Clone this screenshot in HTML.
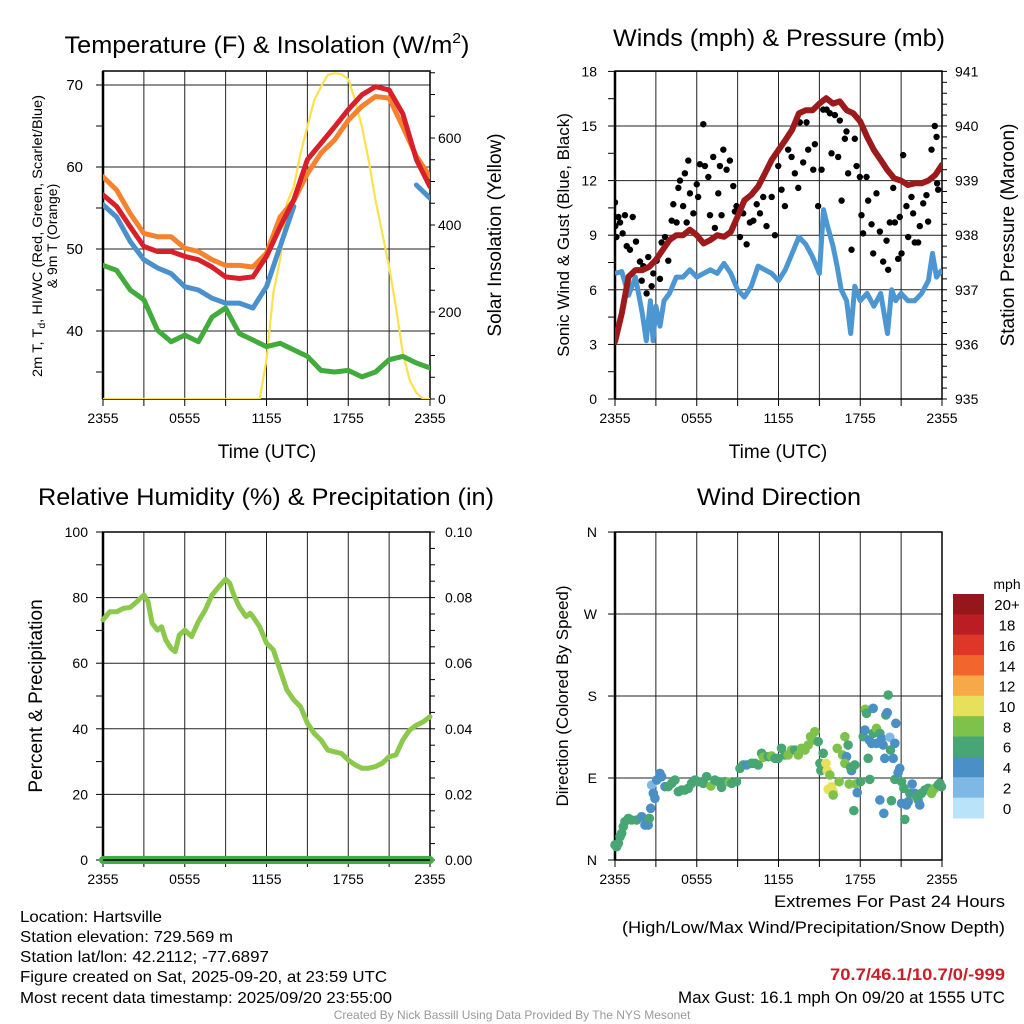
<!DOCTYPE html>
<html><head><meta charset="utf-8"><title>Hartsville Meteogram</title>
<style>
html,body{margin:0;padding:0;background:#fff;}
svg{display:block;font-family:"Liberation Sans",Arial,sans-serif;}
</style></head>
<body>
<svg id="chart" xmlns="http://www.w3.org/2000/svg" width="1024" height="1024" viewBox="0 0 1024 1024">
<rect x="0" y="0" width="1024" height="1024" fill="#fff"/>
<g id="layer"></g>
<!-- Titles -->
<text x="267" y="53" font-size="24" text-anchor="middle" textLength="405" lengthAdjust="spacingAndGlyphs">Temperature (F) &amp; Insolation (W/m<tspan font-size="15" dy="-10">2</tspan><tspan dy="10">)</tspan></text>
<text x="779" y="46" font-size="24" text-anchor="middle" textLength="332" lengthAdjust="spacingAndGlyphs">Winds (mph) &amp; Pressure (mb)</text>
<text x="266" y="505" font-size="24" text-anchor="middle" textLength="456" lengthAdjust="spacingAndGlyphs">Relative Humidity (%) &amp; Precipitation (in)</text>
<text x="779" y="505" font-size="24" text-anchor="middle" textLength="164" lengthAdjust="spacingAndGlyphs">Wind Direction</text>
<!-- Axis titles -->
<text x="267" y="458" font-size="19" text-anchor="middle">Time (UTC)</text>
<text x="778" y="458" font-size="19" text-anchor="middle">Time (UTC)</text>
<text transform="translate(42,236) rotate(-90)" font-size="14" text-anchor="middle" textLength="282" lengthAdjust="spacingAndGlyphs">2m T, T<tspan font-size="10" dy="3">d</tspan><tspan dy="-3">, HI/WC (Red, Green, Scarlet/Blue)</tspan></text>
<text transform="translate(57,236) rotate(-90)" font-size="14" text-anchor="middle">&amp; 9m T (Orange)</text>
<text transform="translate(501,235) rotate(-90)" font-size="19" text-anchor="middle">Solar Insolation (Yellow)</text>
<text transform="translate(569,235) rotate(-90)" font-size="17" text-anchor="middle">Sonic Wind &amp; Gust (Blue, Black)</text>
<text transform="translate(1014,235) rotate(-90)" font-size="19" text-anchor="middle">Station Pressure (Maroon)</text>
<text transform="translate(42,696) rotate(-90)" font-size="19" text-anchor="middle">Percent &amp; Precipitation</text>
<text transform="translate(568,696) rotate(-90)" font-size="17" text-anchor="middle">Direction (Colored By Speed)</text>
<!-- Footer -->
<g font-size="16">
<text x="20" y="922" textLength="142" lengthAdjust="spacingAndGlyphs">Location: Hartsville</text>
<text x="20" y="942" textLength="213" lengthAdjust="spacingAndGlyphs">Station elevation: 729.569 m</text>
<text x="20" y="962" textLength="249" lengthAdjust="spacingAndGlyphs">Station lat/lon: 42.2112; -77.6897</text>
<text x="20" y="982" textLength="367" lengthAdjust="spacingAndGlyphs">Figure created on Sat, 2025-09-20, at 23:59 UTC</text>
<text x="20" y="1003" textLength="372" lengthAdjust="spacingAndGlyphs">Most recent data timestamp: 2025/09/20 23:55:00</text>
</g>
<g font-size="17" text-anchor="end">
<text x="1005" y="907" textLength="231" lengthAdjust="spacingAndGlyphs">Extremes For Past 24 Hours</text>
<text x="1005" y="933" textLength="383" lengthAdjust="spacingAndGlyphs">(High/Low/Max Wind/Precipitation/Snow Depth)</text>
<text x="1005" y="980" fill="#c8202a" font-weight="bold" textLength="175" lengthAdjust="spacingAndGlyphs">70.7/46.1/10.7/0/-999</text>
<text x="1005" y="1003" textLength="327" lengthAdjust="spacingAndGlyphs">Max Gust: 16.1 mph On 09/20 at 1555 UTC</text>
</g>
<text x="512" y="1019" font-size="12" fill="#999" text-anchor="middle">Created By Nick Bassill Using Data Provided By The NYS Mesonet</text>
</svg>
<script>
// ---------- DATA ----------
const hours = [0,1,2,3,4,5,6,7,8,9,10,11,12,13,14,15,16,17,18,19,20,21,22,23,24];
const tempRed = [56.6,55.2,52.7,50.3,49.7,49.7,49.1,48.7,47.8,46.6,46.4,46.6,49.1,52.7,56.0,60.9,62.9,64.9,67.0,68.8,69.8,69.4,66.5,60.9,57.6];
const tempOrange = [58.8,57.2,54.3,51.9,51.5,51.5,50.1,49.7,48.7,48.0,48.0,47.8,49.5,53.9,55.9,59.2,61.7,63.3,65.7,67.4,68.6,68.4,64.9,61.3,58.8];
const tempBlue = [55.4,53.9,50.9,48.7,47.7,47.0,45.4,45.0,44.0,43.4,43.4,42.8,45.4,50.3,55.2,null,null,null,null,null,null,null,null,57.8,56.2];
const dewGreen = [48.0,47.4,45.0,43.8,40.1,38.7,39.5,38.7,41.7,42.8,39.7,38.9,38.1,38.5,37.7,36.9,35.2,35.0,35.2,34.4,35.0,36.5,36.9,36.1,35.5];
const solarHours = [0,11.5,12,12.5,13,13.5,14,14.5,15,15.5,16,16.5,17,17.5,18,18.5,19,19.5,20,20.5,21,21.5,22,22.5,23,23.5,24];
const solarVals = [0,0,90,244,320,450,488,565,626,687,718,745,749,747,735,687,626,549,457,381,304,212,106,44,14,0,0];

const windHours = [0,0.5,1,1.5,2,2.3,2.6,2.8,3,3.3,3.6,4,4.5,5,5.5,6,6.5,7,7.5,8,8.5,9,9.5,10,10.5,11,11.5,12,12.5,13,13.5,14,14.5,15,15.3,15.6,16,16.3,16.6,17,17.3,17.6,18,18.5,19,19.5,20,20.3,20.6,21,21.5,22,22.5,23,23.3,23.6,24];
const windVals = [6.9,7.0,5.7,6.7,4.7,3.2,5.4,3.2,5.1,4.0,5.4,5.8,6.7,6.7,7.1,6.7,6.9,7.1,6.9,7.45,6.9,6.0,5.6,6.2,7.3,7.1,6.9,6.5,7.1,8.0,8.9,8.5,7.8,6.9,10.4,9.5,8.4,7.3,6.0,5.4,3.6,6.2,5.4,5.8,5.1,5.8,3.6,6.0,5.4,5.8,5.4,5.4,5.8,6.5,8.0,6.7,7.1];
const presHours = [0,0.5,1,1.5,2,2.5,3,3.5,4,4.5,5,5.5,6,6.5,7,7.5,8,8.5,9,9.5,10,10.5,11,11.5,12,12.5,13,13.5,14,14.5,15,15.5,16,16.5,17,17.5,18,18.5,19,19.5,20,20.5,21,21.5,22,22.5,23,23.5,24];
const presVals = [936.05,936.57,937.24,937.36,937.36,937.42,937.55,937.73,937.91,938.0,938.0,938.1,938.0,937.85,937.91,938.0,937.97,938.06,938.34,938.64,938.74,938.89,939.13,939.38,939.56,939.74,939.93,940.23,940.29,940.29,940.41,940.51,940.41,940.45,940.29,940.23,940.08,939.8,939.56,939.38,939.19,939.04,939.0,938.92,938.95,938.95,939.0,939.1,939.29];
const gustHours = [0,0.02,0.1,0.25,0.37,0.56,0.73,0.86,1.1,1.3,1.54,1.83,1.96,2.08,2.32,2.44,2.69,2.81,3.06,3.3,3.42,3.67,3.91,4.16,4.28,4.52,4.65,4.77,5.0,5.13,5.26,5.38,5.5,5.75,6.0,6.1,6.23,6.48,6.6,6.85,6.97,7.21,7.33,7.58,7.7,7.82,7.95,8.19,8.43,8.68,8.8,8.92,9.17,9.41,9.66,9.9,10.15,10.4,10.64,10.88,11.12,11.5,11.74,11.98,12.22,12.47,12.71,12.96,13.2,13.45,13.57,13.81,14.06,14.18,14.55,14.67,14.91,15.16,15.28,15.53,15.77,15.89,16.14,16.38,16.5,16.63,16.87,16.99,17.11,17.36,17.6,17.73,17.97,18.09,18.21,18.46,18.58,18.83,18.95,19.19,19.44,19.68,19.93,20.05,20.17,20.42,20.54,20.78,20.9,21.03,21.15,21.39,21.52,21.76,21.88,22.0,22.25,22.37,22.62,22.86,22.98,23.23,23.47,23.6,23.64,23.72];
const gustVals = [10.8,9.5,8.9,10.0,9.7,9.1,10.1,8.4,8.2,10.0,8.65,7.55,6.5,7.3,5.8,7.8,6.2,6.9,7.6,6.6,8.6,8.9,7.6,9.8,10.7,9.7,11.6,12.0,10.6,12.4,9.7,13.1,11.3,10.2,11.8,11.1,12.9,15.1,12.8,12.2,10.1,13.3,9.4,11.3,12.8,10.1,13.7,12.6,13.1,11.7,10.3,10.6,8.9,10.2,8.5,9.7,9.8,10.7,10.2,11.1,9.5,11.1,9.0,12.8,11.5,10.6,13.7,13.3,12.4,11.6,15.2,13.0,15.2,13.7,12.6,14.0,10.6,12.6,15.9,15.9,15.7,13.5,15.6,13.3,15.3,10.9,14.3,14.7,12.4,8.2,14.3,12.8,12.2,10.1,9.1,12.2,10.9,9.6,8.0,11.3,9.2,7.55,8.7,7.1,9.7,11.6,9.7,7.7,10.0,8.0,13.4,10.6,8.9,11.1,10.2,8.6,8.6,9.5,10.75,11.2,9.75,13.7,15.0,14.4,11.85,11.5];

const rhHours = [0,0.5,1,1.5,2,2.5,3,3.3,3.6,4,4.3,4.6,5,5.3,5.6,6,6.5,7,7.5,8,8.5,9,9.3,9.6,10,10.5,10.8,11,11.5,12,12.5,13,13.5,14,14.5,15,15.5,16,16.5,17,17.5,18,18.5,19,19.5,20,20.5,21,21.5,22,22.5,23,23.5,24];
const rhVals = [73.2,75.7,75.7,76.7,77.0,78.8,80.8,78.8,72.2,70.1,71.1,67.1,64.5,63.5,68.6,70.1,68.1,72.7,76.2,80.8,83.3,85.6,84.4,80.8,77.2,74.2,75.2,74.2,71.1,66.1,64.1,57.9,51.8,48.8,46.7,41.7,38.6,36.6,33.5,33.0,32.5,30.5,29.0,28.0,28.0,28.5,29.5,31.5,32.0,36.6,39.6,41.1,42.1,43.7];
const precipHours = [0,24];
const precipVals = [0,0];

const dirHours = [0,0.12,0.24,0.37,0.49,0.61,0.73,0.98,1.22,1.59,1.96,2.2,2.44,2.52,2.62,2.69,2.81,2.93,3.06,3.3,3.42,3.67,3.91,4.16,4.4,4.65,4.89,5.13,5.38,5.62,5.87,6.11,6.48,6.72,7.04,7.33,7.58,7.82,8.07,8.39,8.56,8.92,9.17,9.41,9.66,10.02,10.27,10.51,10.76,10.88,11.25,11.49,11.74,11.98,12.22,12.47,12.71,12.96,13.2,13.45,13.69,13.94,14.18,14.35,14.55,14.67,14.91,15.04,15.28,15.11,15.48,15.57,15.77,15.65,15.89,16.01,16.01,16.31,16.45,16.7,16.87,16.99,17.11,16.87,17.19,17.36,17.29,17.53,17.6,17.68,17.78,18.02,18.22,18.34,18.36,18.46,18.58,18.7,18.66,18.95,18.83,18.95,19.19,19.19,19.44,19.44,19.56,19.68,19.73,19.8,19.88,19.98,20.05,20.17,20.29,20.22,20.42,20.54,20.61,20.54,20.78,20.9,21.03,21.03,21.2,21.27,21.39,21.52,21.64,21.81,22.0,22.13,22.25,22.37,22.49,22.74,22.98,23.23,23.35,23.47,23.72,23.84,23.96];
const dirDeg = [16.5,14.6,18.3,25.6,29.3,36.6,42.1,45.7,43.9,43.9,47.6,38.4,38.4,45.7,56.7,82.3,73.2,67.7,87.8,95.1,91.5,80.5,80.5,84.2,87.8,75,76.8,76.8,78.7,84.2,87.8,86,84.2,91.5,81.2,87.8,86,79.8,86,85.3,84.2,86,100.6,104.3,104.3,106.1,106.1,104.3,117.1,112.7,113.4,114.2,111.6,111.6,122.6,115.3,115.3,120.7,120.7,115.3,122.6,120.7,126.2,135.4,131.7,140.9,129.9,106.1,117.1,98.1,106.1,98.1,93.3,77.6,80.5,75,71.3,122.6,86,115.3,135.4,113.4,126.2,106.1,83.4,98.1,101.7,54.2,104.3,83.4,73.9,86,135.4,142.7,165.4,161,111.6,88.5,131.7,166.5,128.1,139,144.5,128.1,65.9,139,133.5,126.2,51.2,111.6,159.2,161.7,181.1,134.7,65.1,120.7,111.6,128.1,150,88.5,95.9,100.6,86,62.2,78.7,44.6,60.4,64,73.2,83.4,73.2,69.5,65.9,60.4,73.2,76.8,78.7,73.2,76.8,78.7,82.3,84.2,80.5];
const dirSpeed = [7,7,7,7,7,7,7,7,7,7,5,5,5,7,5,3,5,5,5,5,5,5,7,7,7,7,7,7,7,7,7,7,7,7,9,7,7,7,7,9,7,7,7,7,5,7,7,7,7,9,7,9,7,7,7,7,9,9,7,9,9,9,9,9,9,9,7,7,7,7,11,11,9,11,11,11,9,9,9,9,9,5,7,9,9,5,7,7,7,9,5,7,7,5,9,7,7,7,5,5,5,7,9,5,5,7,5,5,5,5,7,5,7,3,7,7,5,5,5,7,5,5,7,5,7,7,5,5,7,5,5,7,7,5,7,7,7,9,9,9,7,7,7];
const speedLabels = ["20+","18","16","14","12","10","8","6","4","2","0"];
const speedColors = ["#b8e3f8","#7eb9e5","#4a8fc6","#47a673","#7fc24b","#e6e05a","#f7a948","#f2652c","#de3627","#bc1d25","#94171c"];
const timeLabels = ["2355","0555","1155","1755","2355"];

// ---------- HELPERS ----------
const NS = "http://www.w3.org/2000/svg";
const layer = document.getElementById("layer");
function mk(tag, attrs, parent){
  const e = document.createElementNS(NS, tag);
  for (const k in attrs) e.setAttribute(k, attrs[k]);
  (parent||layer).appendChild(e);
  return e;
}
function txt(x,y,s,size,anchor,parent){
  const t = mk("text",{x:x,y:y,"font-size":size,"text-anchor":anchor||"start"},parent);
  t.textContent = s;
  return t;
}
function linePath(xs, ys, xf, yf){
  let d = "", pen = false;
  for (let i=0;i<xs.length;i++){
    if (ys[i]===null){ pen=false; continue; }
    d += (pen?"L":"M") + xf(xs[i]).toFixed(1) + "," + yf(ys[i]).toFixed(1);
    pen = true;
  }
  return d;
}

function frame(x0,x1,y0,y1,hGridYs,name){
  const g = mk("g",{});
  
  
  const xs = h => x0 + h*(x1-x0)/24;
  for (let h=0; h<=24; h+=3){
    const gl = mk("line",{x1:xs(h),x2:xs(h),y1:y0,y2:y1,stroke:"#222","stroke-width":1},g);
    
    
    mk("line",{x1:xs(h),x2:xs(h),y1:y1,y2:y1+7,stroke:"#000","stroke-width":1},g);
  }
  hGridYs.forEach(y=>{
    const gl = mk("line",{x1:x0,x2:x1,y1:y,y2:y,stroke:"#222","stroke-width":1},g);
    
    
  });
  const box = mk("rect",{x:x0,y:y0,width:x1-x0,height:y1-y0,fill:"none",stroke:"#000","stroke-width":1.5},g);
  
  
  mk("line",{x1:x0,x2:x0,y1:y0,y2:y1,stroke:"#000","stroke-width":2.5},g);
  for (let i=0;i<timeLabels.length;i++){
    const t = txt(xs(i*6), y1+24, timeLabels[i], 14, "middle", g);
    
    
  }
  return xs;
}
function ticks(x, ys, dir, len){
  ys.forEach(y=>mk("line",{x1:x,x2:x+dir*len,y1:y,y2:y,stroke:"#000","stroke-width":1}));
}

// ---------- PANEL 1: Temperature ----------
(function(){
  const x0=103,x1=430,y0=71,y1=399;
  const yT = t => 85 + (70-t)*8.2;
  const yS = s => 399 - s*0.435;
  const grid = [70,60,50,40].map(yT);
  const xs = frame(x0,x1,y0,y1,grid,"temperature-panel");
  const lt=[]; for(let t=35;t<=70;t+=5) lt.push(yT(t)); ticks(x0,lt,-1,7);
  [70,60,50,40].forEach(t=>{const e=txt(x0-20,yT(t)+5,String(t),15,"end");  });
  const rt=[]; for(let s=0;s<=750;s+=50) rt.push(yS(s)); ticks(x1,rt,1,5);
  [0,200,400,600].forEach(s=>{const e=txt(x1+8,yS(s)+5,String(s),14,"start");  });
  const clip = mk("clipPath",{id:"c1"}); mk("rect",{x:x0,y:y0,width:x1-x0,height:y1-y0},clip);
  const g = mk("g",{"clip-path":"url(#c1)"});
  const series = [
    [solarHours,solarVals,yS,"#fbe14d",2.2,"solar-insolation-line"],
    [hours,dewGreen,yT,"#41ab3c",5,"dewpoint-line"],
    [hours,tempBlue,yT,"#4a90cc",5,"heat-index-windchill-line"],
    [hours,tempOrange,yT,"#f6822e",5,"temp-9m-line"],
    [hours,tempRed,yT,"#d7202a",5,"temp-2m-line"]
  ];
  series.forEach(s=>{
    const p = mk("path",{d:linePath(s[0],s[1],xs,s[2]),fill:"none",stroke:s[3],"stroke-width":s[4],"stroke-linejoin":"round","stroke-linecap":"round"},g);
    
    
  });
})();

// ---------- PANEL 2: Winds ----------
(function(){
  const x0=615,x1=942,y0=71,y1=399;
  const yW = v => 399 - v*18.2;
  const yP = p => 399 - (p-935)*54.6;
  const grid = [18,15,12,9,6,3].map(yW);
  const xs = frame(x0,x1,y0,y1,grid,"winds-panel");
  const lt=[]; for(let v=0;v<=18;v+=1.5) lt.push(yW(v)); ticks(x0,lt,-1,7);
  [0,3,6,9,12,15,18].forEach(v=>{const e=txt(x0-18,yW(v)+5,String(v),14,"end");  });
  const rt=[]; for(let i=0;i<=30;i++) rt.push(yP(935+i*0.2)); ticks(x1,rt,1,5);
  [935,936,937,938,939,940,941].forEach(p=>{const e=txt(x1+13,yP(p)+5,String(p),14,"start");  });
  const clip = mk("clipPath",{id:"c2"}); mk("rect",{x:x0,y:y0,width:x1-x0,height:y1-y0},clip);
  const g = mk("g",{"clip-path":"url(#c2)"});
  const w = mk("path",{d:linePath(windHours,windVals,xs,yW),fill:"none",stroke:"#4c97d2","stroke-width":5,"stroke-linejoin":"round"},g);
  
  
  for (let i=0;i<gustHours.length;i++){
    const c = mk("circle",{cx:xs(gustHours[i]),cy:yW(gustVals[i]),r:3.2,fill:"#000"},g);
    
    
  }
  const p = mk("path",{d:linePath(presHours,presVals,xs,yP),fill:"none",stroke:"#9c1a1c","stroke-width":6,"stroke-linejoin":"round","stroke-linecap":"round"},g);
  
  
})();

// ---------- PANEL 3: RH ----------
(function(){
  const x0=103,x1=430,y0=532,y1=860;
  const yR = r => 860 - r*3.28;
  const yPr = p => 860 - p*3280;
  const grid = [80,60,40,20].map(yR);
  const xs = frame(x0,x1,y0,y1,grid,"humidity-panel");
  const lt=[]; for(let r=0;r<=100;r+=10) lt.push(yR(r)); ticks(x0,lt,-1,7);
  [0,20,40,60,80,100].forEach(r=>{const e=txt(x0-15,yR(r)+5,String(r),14,"end");  });
  const rt=[]; for(let i=0;i<=20;i++) rt.push(yPr(i*0.005)); ticks(x1,rt,1,5);
  [0,0.02,0.04,0.06,0.08,0.1].forEach(p=>{const e=txt(x1+15,yPr(p)+5,p.toFixed(2),14,"start");  });
  const r = mk("path",{d:linePath(rhHours,rhVals,xs,yR),fill:"none",stroke:"#8cc84b","stroke-width":5,"stroke-linejoin":"round","stroke-linecap":"round"});
  
  
  const p = mk("path",{d:linePath(precipHours,precipVals,xs,yPr),fill:"none",stroke:"#3fae45","stroke-width":8,"stroke-linecap":"round"});
  
  
  mk("line",{x1:x0,x2:x1,y1:860,y2:860,stroke:"#000","stroke-width":1.5});
})();

// ---------- PANEL 4: Direction ----------
(function(){
  const x0=615,x1=942,y0=532,y1=860;
  const yD = d => 860 - d*0.911;
  const dirLabels = ["N","E","S","W","N"];
  const grid = [90,180,270].map(yD);
  const xs = frame(x0,x1,y0,y1,grid,"direction-panel");
  const lt=[0,90,180,270,360].map(yD); ticks(x0,lt,-1,7);
  dirLabels.forEach((s,i)=>{const e=txt(x0-18,yD(i*90)+5,s,14,"end");  });
  const clip = mk("clipPath",{id:"c4"}); mk("rect",{x:x0-6,y:y0,width:x1-x0+12,height:y1-y0+6},clip);
  const g = mk("g",{"clip-path":"url(#c4)"});
  for (let i=0;i<dirHours.length;i++){
    const idx = Math.min(10, Math.floor(dirSpeed[i]/2));
    const c = mk("circle",{cx:xs(dirHours[i]),cy:yD(dirDeg[i]),r:4.8,fill:speedColors[idx]},g);
    
    
  }
  const cb = mk("g",{});
  
  
  const cy0=594, ch=(818-594)/11;
  for (let i=0;i<11;i++){
    const col = speedColors[10-i];
    const r = mk("rect",{x:953,y:cy0+i*ch,width:31,height:ch+0.5,fill:col},cb);
    
    
    const t = txt(1007,cy0+i*ch+ch/2+6,speedLabels[i],15,"middle",cb);
    
    
  }
  const u = txt(1007,589,"mph",14,"middle",cb);
  
  
})();
</script>
</body></html>
